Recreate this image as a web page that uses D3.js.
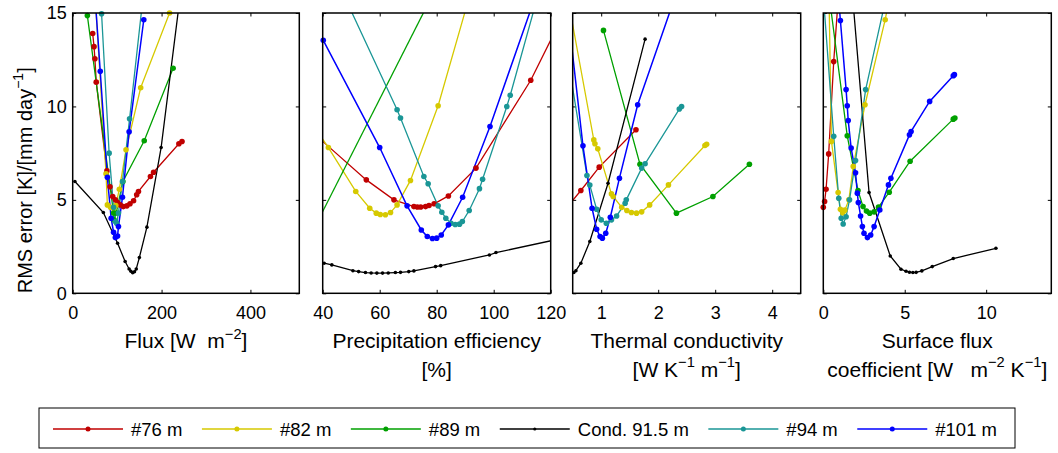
<!DOCTYPE html>
<html>
<head>
<meta charset="utf-8">
<script src="https://cdn.jsdelivr.net/npm/d3@7"></script>
<style>
  html, body { margin: 0; padding: 0; background: #fff; }
  svg { display: block; font-family: "Liberation Sans", Arial, Helvetica, sans-serif; }
</style>
</head>
<body>
<svg id="chart" width="1058" height="453"></svg>
<script>
// Serien (Reihenfolge wie in der Legende)
const seriesKeys = ["m76", "m82", "m89", "c915", "m94", "m101"];
const seriesNames = ["#76 m", "#82 m", "#89 m", "Cond. 91.5 m", "#94 m", "#101 m"];
const seriesColors = ["#c00000", "#d6c900", "#00a000", "#000000", "#1a9696", "#0000ff"];

// Panel-Achsen
const yTicks = [0, 5, 10, 15];
const panelDomains = [[0, 510], [40, 120], [0.5, 4.5], [0, 14]];
const panelTicks = [[0, 200, 400], [40, 60, 80, 100, 120], [1, 2, 3, 4], [0, 5, 10]];
const panelLabels = [
  ["Flux [W  m^{−2}]"],
  ["Precipitation efficiency", "[%]"],
  ["Thermal conductivity", "[W K^{−1} m^{−1}]"],
  ["Surface flux", "coefficient [W   m^{−2} K^{−1}]"]
];
const yLabel = "RMS error [K]/[mm day^{−1}]";

// Werte, [x, RMS]
const fluxData = {
  m76: [[45, 13.9], [48, 13.2], [50, 12.55], [53, 11.3], [77, 6.55], [84, 5.7], [90, 5.18], [96, 5.0], [101, 4.85],
        [107, 4.73], [114, 4.64], [122, 4.68], [129, 4.79], [137, 4.95], [144, 5.27], [148, 5.45], [175, 6.25],
        [182, 6.48], [239, 8.0], [246, 8.12]],
  m82: [[47.6, 17], [75, 6.4], [78, 4.73], [85, 4.6], [92, 4.55], [97, 4.7], [105, 5.57], [120, 7.68], [153, 11.0], [218, 15.0]],
  m89: [[33, 14.86], [92, 4.3], [93, 3.93], [98, 4.3], [113, 5.98], [161, 8.16], [226, 12.04]],
  c915: [[5, 5.98], [69, 4.32], [101, 2.68], [118, 1.7], [127, 1.3], [131, 1.18], [135, 1.1], [139, 1.15],
         [143, 1.3], [150, 1.91], [167, 3.54], [199, 7.8], [245, 16.5]],
  m94: [[65, 14.96], [82, 7.5], [92, 4.6], [96, 3.84], [99, 3.75], [103, 4.3], [112, 5.98], [128, 9.34], [159, 16]],
  m101: [[47, 17], [62, 11.88], [78, 6.21], [86.5, 4.02], [92, 3.27], [96, 2.98], [101, 3.07], [103, 3.57],
         [112, 5.14], [127, 8.64], [160, 14.64]]
};

const precipData = {
  m76: [[38, 8.4], [55.3, 6.07], [65, 5.0], [72, 4.64], [73.2, 4.62], [74.4, 4.62], [76.1, 4.64], [77.3, 4.7],
        [79.1, 4.79], [84.1, 5.21], [93.8, 6.7], [113, 11.4], [122, 14.16]],
  m82: [[38, 8.7], [42, 7.8], [51.6, 5.45], [56.5, 4.55], [58.8, 4.29], [60.2, 4.22], [62, 4.2], [63.8, 4.32],
        [66.1, 4.73], [70.8, 6.04], [80.5, 10.04], [91.7, 16]],
  m89: [[35, 2.87], [80, 16.41]],
  c915: [[40.5, 1.61], [43.2, 1.52], [50.6, 1.21], [52.6, 1.16], [55, 1.11], [57, 1.09], [59, 1.08], [61, 1.08],
         [63, 1.09], [65.5, 1.11], [67.3, 1.12], [70.2, 1.16], [72, 1.2], [79.6, 1.43], [81.4, 1.48], [98.5, 2.05],
         [100.8, 2.18], [125, 2.97]],
  m94: [[48, 15.76], [66.1, 9.82], [67.3, 9.38], [75.5, 6.25], [77, 5.86], [80.5, 4.68], [81.8, 4.34], [83.2, 4.02],
        [85, 3.75], [86.5, 3.68], [88, 3.7], [89, 3.84], [91.4, 4.43], [95, 5.6], [96.1, 6.1], [104.6, 10.0],
        [105.8, 10.6], [116, 16.2]],
  m101: [[40.2, 13.54], [60, 7.8], [69.6, 4.68], [74.6, 3.39], [76.7, 3.04], [78.5, 2.93], [80, 2.95], [81.6, 3.12],
         [84.1, 3.66], [89.1, 5.14], [98.7, 8.93], [115, 16.05]]
};

const thermalData = {
  m76: [[0.4, 4.6], [0.643, 5.5], [0.965, 6.75], [1.61, 8.75]],
  m82: [[0.45, 15.2], [0.87, 8.21], [0.89, 8.0], [0.94, 7.73], [1.18, 5.32], [1.21, 5.18], [1.36, 4.6], [1.45, 4.43],
        [1.53, 4.32], [1.62, 4.29], [1.71, 4.36], [1.85, 4.73], [2.18, 5.8], [2.82, 7.91], [2.85, 7.98]],
  m89: [[1.04, 14.07], [1.68, 6.91], [2.32, 4.29], [2.96, 5.18], [3.6, 6.91]],
  c915: [[0.52, 1.11], [0.556, 1.21], [0.643, 1.61], [0.8, 2.77], [1.12, 5.89], [1.77, 13.6]],
  m94: [[0.45, 11.9], [0.75, 6.3], [0.8, 5.79], [0.92, 4.5], [1.0, 3.93], [1.09, 3.75], [1.18, 3.93], [1.27, 4.14],
        [1.42, 4.82], [1.44, 5.0], [1.71, 6.7], [1.77, 6.93], [2.37, 9.86], [2.41, 10.0]],
  m101: [[0.45, 14.1], [0.68, 7.89], [0.84, 4.55], [0.92, 3.43], [0.98, 3.04], [1.02, 2.95], [1.08, 3.21],
         [1.16, 4.07], [1.32, 6.16], [1.64, 10.09], [2.3, 15.9]]
};

const surfaceData = {
  m76: [[0.0, 4.6], [0.08, 4.91], [0.17, 5.57], [0.33, 7.46], [0.64, 12.4], [0.95, 16.2]],
  m82: [[0.33, 17], [0.5, 8.13], [0.91, 5.39], [1.05, 4.5], [1.2, 4.3], [1.32, 4.45], [1.57, 5.0], [1.84, 6.79],
        [2.56, 10.09], [3.8, 14.64], [4.1, 16]],
  m89: [[0.2, 17], [1.47, 8.43], [2.13, 5.5], [2.44, 4.64], [2.65, 4.4], [2.85, 4.29], [3.12, 4.36], [3.39, 4.61],
        [4.05, 5.41], [5.33, 7.07], [7.98, 9.32], [8.08, 9.38]],
  c915: [[1.69, 17], [2.81, 5.39], [4.11, 2.0], [4.77, 1.29], [5.08, 1.18], [5.29, 1.13], [5.5, 1.11], [5.7, 1.12],
         [6.05, 1.2], [6.69, 1.43], [7.98, 1.86], [10.6, 2.41]],
  m94: [[-0.09, 17], [0.64, 8.4], [0.95, 5.09], [1.1, 4.02], [1.22, 3.71], [1.4, 4.1], [1.61, 5.0], [1.98, 7.1],
        [2.6, 10.9], [3.9, 16.0]],
  m101: [[0.82, 17], [1.05, 14.6], [1.4, 10.9], [1.47, 10.04], [1.53, 9.25], [1.71, 7.77], [1.98, 6.45], [2.09, 5.36],
         [2.15, 4.86], [2.29, 4.14], [2.4, 3.57], [2.5, 3.21], [2.71, 2.98], [2.91, 3.12], [3.12, 3.57], [3.47, 4.46],
         [4.0, 5.8], [4.15, 6.16], [5.29, 8.48], [5.39, 8.66], [6.53, 10.27], [7.98, 11.64], [8.05, 11.7]]
};

const panelData = [fluxData, precipData, thermalData, surfaceData];

// Layout
const panelX = [[72.7, 299.3], [322.7, 550.7], [572.7, 800.7], [823.3, 1051.3]];
const plotTop = 13, plotBottom = 293.3;
const tickFont = 18, labelFont = 21;

const svg = d3.select("#chart");
const color = d3.scaleOrdinal().domain(seriesKeys).range(seriesColors);
const y = d3.scaleLinear().domain([0, 15]).range([plotBottom, plotTop]);

// Text mit Hochstellung ^{...}
function richText(sel, str, size) {
  const parts = str.split(/(\^\{[^}]*\})/).filter(s => s.length);
  let shift = 0;
  parts.forEach(p => {
    const sup = p.startsWith("^{");
    const target = sup ? -size * 0.45 : 0;
    sel.append("tspan")
      .attr("dy", target - shift)
      .attr("font-size", sup ? size * 0.7 : size)
      .text(sup ? p.slice(2, -1) : p);
    shift = target;
  });
}

panelData.forEach((data, pi) => {
  const x = d3.scaleLinear().domain(panelDomains[pi]).range(panelX[pi]);
  const g = svg.append("g");

  const clipId = "clip" + pi;
  svg.append("clipPath").attr("id", clipId)
    .append("rect")
      .attr("x", panelX[pi][0]).attr("y", plotTop)
      .attr("width", panelX[pi][1] - panelX[pi][0])
      .attr("height", plotBottom - plotTop);

  // Achsen (Ticks nach innen, wie MATLAB-Box)
  g.append("g")
    .attr("transform", `translate(0,${plotBottom})`)
    .call(d3.axisBottom(x).tickValues(panelTicks[pi]).tickSize(-3.5).tickSizeOuter(0).tickPadding(13)
      .tickFormat(d3.format("")));
  g.append("g")
    .attr("transform", `translate(0,${plotTop})`)
    .call(d3.axisTop(x).tickValues(panelTicks[pi]).tickSize(-3.5).tickSizeOuter(0).tickFormat(""));
  g.append("g")
    .attr("transform", `translate(${panelX[pi][0]},0)`)
    .call(d3.axisLeft(y).tickValues(yTicks).tickSize(-3.5).tickSizeOuter(0).tickPadding(6)
      .tickFormat(pi === 0 ? d3.format("") : ""));
  g.append("g")
    .attr("transform", `translate(${panelX[pi][1]},0)`)
    .call(d3.axisRight(y).tickValues(yTicks).tickSize(-3.5).tickSizeOuter(0).tickFormat(""));

  g.selectAll(".domain").remove();
  g.selectAll(".tick line").attr("stroke", "#000").attr("stroke-width", 1);
  g.selectAll(".tick text")
    .attr("fill", "#000")
    .attr("font-size", tickFont)
    .attr("font-family", "Liberation Sans, Arial, sans-serif");

  // Linien
  const line = d3.line().x(d => x(d[0])).y(d => y(d[1]));
  const lines = g.append("g").attr("clip-path", `url(#${clipId})`);
  seriesKeys.forEach(k => {
    lines.append("path")
      .datum(data[k])
      .attr("fill", "none")
      .attr("stroke", color(k))
      .attr("stroke-width", k === "m101" ? 1.5 : 1.3)
      .attr("d", line);
  });

  // Marker (nur Punkte im Achsenbereich)
  const [x0, x1] = panelDomains[pi];
  seriesKeys.forEach(k => {
    g.append("g").selectAll("circle")
      .data(data[k].filter(d => d[0] >= x0 && d[0] <= x1 && d[1] >= 0 && d[1] <= 15))
      .join("circle")
        .attr("cx", d => x(d[0]))
        .attr("cy", d => y(d[1]))
        .attr("r", k === "c915" ? 1.8 : 2.8)
        .attr("fill", color(k));
  });

  // Rahmen
  g.append("rect")
    .attr("x", panelX[pi][0]).attr("y", plotTop)
    .attr("width", panelX[pi][1] - panelX[pi][0])
    .attr("height", plotBottom - plotTop)
    .attr("fill", "none")
    .attr("stroke", "#000")
    .attr("stroke-width", 1.5);

  // x-Beschriftung
  const cx = (panelX[pi][0] + panelX[pi][1]) / 2;
  panelLabels[pi].forEach((txt, li) => {
    const t = g.append("text")
      .attr("x", cx)
      .attr("y", 348 + li * 28.5)
      .attr("text-anchor", "middle")
      .attr("fill", "#000")
      .style("white-space", "pre")
      .attr("font-size", labelFont);
    richText(t, txt, labelFont);
  });
});

// y-Beschriftung (beginnt unten an der Achse)
const yl = svg.append("text")
  .attr("transform", `translate(32,${plotBottom}) rotate(-90)`)
  .attr("text-anchor", "start")
  .attr("fill", "#000")
  .attr("font-size", 20);
richText(yl, yLabel, 20);

// Legende
const legend = svg.append("g");
legend.append("rect")
  .attr("x", 39).attr("y", 408)
  .attr("width", 976).attr("height", 40)
  .attr("fill", "#fff")
  .attr("stroke", "#000")
  .attr("stroke-width", 1);

let lx = 53;
seriesKeys.forEach((k, i) => {
  const item = legend.append("g").attr("transform", `translate(${lx},429)`);
  item.append("line")
    .attr("x1", 0).attr("x2", 70)
    .attr("stroke", color(k))
    .attr("stroke-width", 1.3);
  item.append("circle")
    .attr("cx", 35).attr("r", k === "c915" ? 1.6 : 2.5)
    .attr("fill", color(k));
  const t = item.append("text")
    .attr("x", 78)
    .attr("y", 7)
    .attr("fill", "#000")
    .attr("font-size", 18.5)
    .text(seriesNames[i]);
  lx += 78 + t.node().getComputedTextLength() + 19.5;
});
</script>
</body>
</html>
